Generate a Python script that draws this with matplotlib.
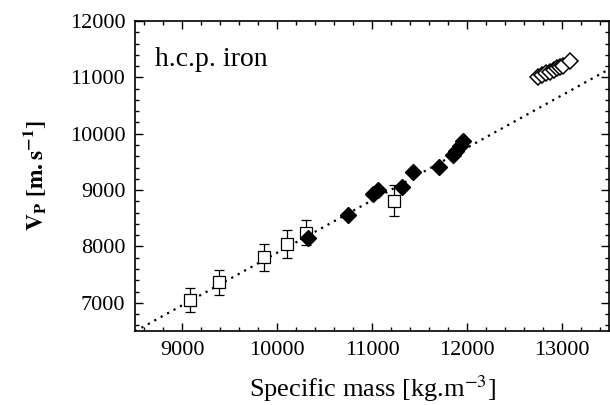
import numpy as np
import matplotlib
matplotlib.use("Agg")
import matplotlib.pyplot as plt
from matplotlib.ticker import MultipleLocator

plt.rcParams["font.family"] = ["Liberation Serif", "DejaVu Serif"]
plt.rcParams["mathtext.fontset"] = "stix"

# open squares with error bars
sq_rho = [9084, 9386, 9861, 10108, 10309, 11230]
sq_vp = [7053, 7367, 7810, 8041, 8247, 8814]
sq_err = [213, 222, 237, 245, 225, 268]

# filled diamonds
fd_rho = [10326, 10748, 11008, 11066, 11320, 11434, 11705, 11850, 11885, 11925, 11965]
fd_vp = [8144, 8552, 8933, 8995, 9048, 9317, 9406, 9630, 9700, 9780, 9865]

# open diamonds
od_rho = [12752, 12795, 12837, 12879, 12921, 12953, 12985, 13016, 13090]
od_vp = [11007, 11043, 11069, 11096, 11131, 11158, 11184, 11202, 11291]

# linear fit Vp = a + b * rho
fit_a = -1411
fit_b = 0.930

fig = plt.figure(figsize=(6.1, 4.05), dpi=100)
ax = fig.add_axes([135 / 610, 1 - 331 / 405, 474 / 610, 310 / 405])

xs = np.array([8500, 13500])
ax.plot(xs, fit_a + fit_b * xs, color="black", lw=1.6, ls=(0, (1, 2.3)), zorder=1)

ax.errorbar(sq_rho, sq_vp, yerr=sq_err, fmt="none", ecolor="black",
            elinewidth=0.9, capsize=3.5, capthick=0.9, zorder=2)
ax.plot(sq_rho, sq_vp, ls="none", marker="s", ms=8.8, mfc="white",
        mec="black", mew=0.9, zorder=3)
ax.plot(fd_rho, fd_vp, ls="none", marker="D", ms=7.8, mfc="black",
        mec="black", zorder=4)
ax.plot(od_rho, od_vp, ls="none", marker="D", ms=8.2, mfc="white",
        mec="black", mew=1.1, zorder=4)

ax.set_xlim(8500, 13500)
ax.set_ylim(6500, 12000)
ax.xaxis.set_major_locator(MultipleLocator(1000))
ax.xaxis.set_minor_locator(MultipleLocator(200))
ax.yaxis.set_major_locator(MultipleLocator(1000))
ax.yaxis.set_minor_locator(MultipleLocator(200))
ax.tick_params(which="both", direction="in", top=True, right=True,
               labelsize=16, width=1.0)
ax.tick_params(which="major", length=6, pad=7)
ax.tick_params(which="minor", length=3)
for s in ax.spines.values():
    s.set_linewidth(1.2)

ax.set_xlabel(r"Specific mass [kg.m$^{-3}$]", fontsize=19, labelpad=10)
ax.set_ylabel(r"$\mathbf{V_{P}\ [m.s^{-1}]}$", fontsize=17, labelpad=15)
ax.text(0.042, 0.855, "h.c.p. iron", transform=ax.transAxes,
        fontsize=20, va="baseline", ha="left")

fig.savefig("out.png", dpi=100)
